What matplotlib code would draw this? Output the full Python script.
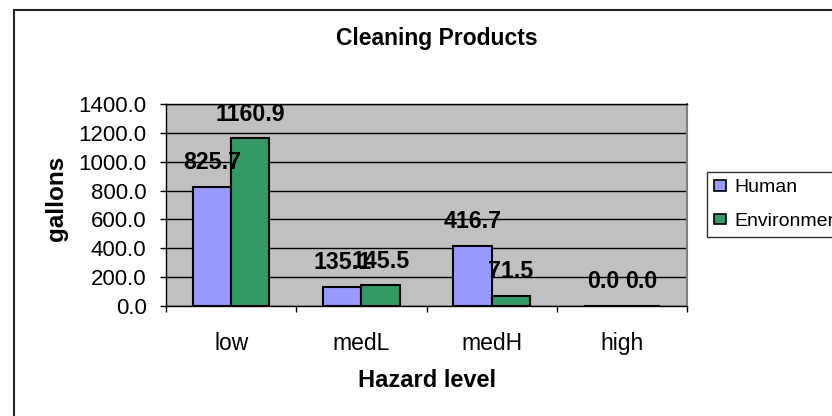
import numpy as np
import matplotlib
matplotlib.use("Agg")
import matplotlib.pyplot as plt
from matplotlib.patches import Rectangle
from matplotlib.ticker import FormatStrFormatter

plt.rcParams['font.family'] = ['Liberation Sans', 'DejaVu Sans']

categories = ["low", "medL", "medH", "high"]
human = [825.7, 135.1, 416.7, 0.0]
environment = [1160.9, 145.5, 71.5, 0.0]
series_names = ["Human", "Environment"]
colors = ["#9999FF", "#339966"]

W, H = 832, 416


def label_bars(ax, bars, values):
    for b, v in zip(bars, values):
        ax.annotate("%.1f" % v, (b.get_x() + b.get_width() / 2, b.get_height()),
                    xytext=(0, 12.6), textcoords="offset points",
                    ha="center", va="baseline", fontsize=16.7, fontweight="bold")


def main():
    fig = plt.figure(figsize=(W / 100, H / 100), dpi=100)
    ax = fig.add_axes([166 / W, 1 - 306 / H, (687 - 166) / W, (306 - 104) / H])
    ax.set_facecolor("#C0C0C0")

    x = np.arange(len(categories))
    w = 0.293
    b1 = ax.bar(x - w / 2, human, w, color=colors[0], edgecolor="black", linewidth=1.5, zorder=3)
    b2 = ax.bar(x + w / 2, environment, w, color=colors[1], edgecolor="black", linewidth=1.5, zorder=3)
    label_bars(ax, b1, human)
    label_bars(ax, b2, environment)

    ax.set_xlim(-0.5, len(categories) - 0.5)
    ax.set_ylim(0, 1400)
    ax.set_yticks(np.arange(0, 1401, 200))
    ax.yaxis.set_major_formatter(FormatStrFormatter("%.1f"))
    ax.yaxis.grid(True, color="black", linewidth=1)
    ax.set_axisbelow(True)

    ax.set_xticks(x)
    ax.set_xticklabels(categories)
    ax.set_xticks(np.arange(-0.5, len(categories), 1), minor=True)
    ax.tick_params(axis="x", which="major", length=0, pad=19, labelsize=16.5)
    ax.tick_params(axis="x", which="minor", length=4.5, width=1, direction="out", color="black")
    ax.tick_params(axis="y", length=4.5, width=1, direction="out", pad=9.5, labelsize=16)

    for s in ["left", "bottom", "top"]:
        ax.spines[s].set_color("black")
        ax.spines[s].set_linewidth(1)
    ax.spines["right"].set_color("#808080")
    ax.spines["right"].set_linewidth(1.5)

    ax.set_ylabel("gallons", fontsize=17.5, fontweight="bold")
    ax.yaxis.label.set_va("center")
    ax.yaxis.set_label_coords((57 - 166) / (687 - 166), 0.535)
    ax.set_xlabel("Hazard level", fontsize=17, fontweight="bold")
    ax.xaxis.set_label_coords(0.5, -(380 - 306) / (306 - 104))
    ax.xaxis.label.set_va("center")

    fig.text(437 / W, 1 - 39 / H, "Cleaning Products", ha="center", va="center",
             fontsize=16.5, fontweight="bold")

    handles = [Rectangle((0, 0), 1, 1, facecolor=c, edgecolor="black", linewidth=1.2) for c in colors]
    leg = fig.legend(handles, series_names, loc="upper left",
                     bbox_to_anchor=(707 / W, 1 - 172 / H), fontsize=14,
                     frameon=True, fancybox=False, handlelength=0.62, handleheight=0.48,
                     handletextpad=0.42, labelspacing=0.85, borderpad=0.38, borderaxespad=0)
    leg.get_frame().set_edgecolor("black")
    leg.get_frame().set_linewidth(1)

    # outer chart border, runs off the right and bottom edges
    fig.patches.append(Rectangle((14 / W, -0.2), 1.2, 1 - 10 / H + 0.2, transform=fig.transFigure,
                                 fill=False, edgecolor="#222222", linewidth=1.5))

    fig.savefig("out.png", dpi=100)


if __name__ == "__main__":
    main()
